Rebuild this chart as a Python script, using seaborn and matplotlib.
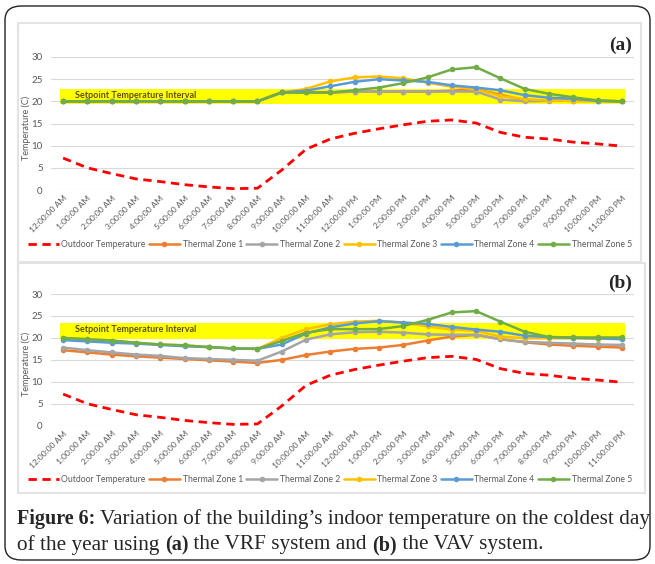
import numpy as np
import pandas as pd
import matplotlib
matplotlib.use("Agg")
import matplotlib.pyplot as plt
import seaborn as sns
from matplotlib.patches import Rectangle, FancyBboxPatch

# -------------------------------
# Data
# -------------------------------
hour_labels = [f"{h}:00:00 AM" for h in [12] + list(range(1, 12))] + \
              [f"{h}:00:00 PM" for h in [12] + list(range(1, 12))]

outdoor = [7.2, 5.0, 3.7, 2.5, 1.9, 1.2, 0.7, 0.3, 0.4, 4.5, 9.2, 11.5,
           12.8, 13.8, 14.7, 15.5, 15.8, 15.1, 13.0, 11.9, 11.5, 10.8, 10.4, 9.9]

# (a) VRF system
vrf_zone1 = [20, 20, 20, 20, 20, 20, 20, 20, 20, 22.0, 22.0, 22.0,
             22.2, 22.2, 22.2, 22.2, 22.4, 22.7, 21.5, 20.2, 20.2, 20.1, 20.1, 20.0]
vrf_zone2 = [20, 20, 20, 20, 20, 20, 20, 20, 20, 22.0, 22.0, 22.0,
             22.2, 22.2, 22.2, 22.2, 22.2, 22.2, 20.4, 20.0, 20.1, 20.1, 20.1, 20.0]
vrf_zone3 = [20, 20, 20, 20, 20, 20, 20, 20, 20, 22.0, 22.8, 24.5,
             25.4, 25.6, 25.2, 24.2, 23.3, 22.7, 21.2, 20.5, 20.2, 20.1, 20.1, 20.0]
vrf_zone4 = [20, 20, 20, 20, 20, 20, 20, 20, 20, 22.0, 22.4, 23.4,
             24.4, 25.0, 24.7, 24.4, 23.6, 23.1, 22.5, 21.4, 20.8, 20.6, 20.1, 20.0]
vrf_zone5 = [20, 20, 20, 20, 20, 20, 20, 20, 20, 22.0, 22.0, 22.0,
             22.5, 23.1, 24.1, 25.4, 27.2, 27.7, 25.2, 22.8, 21.7, 20.9, 20.2, 20.0]

# (b) VAV system
vav_zone1 = [17.2, 16.7, 16.2, 15.8, 15.5, 15.2, 14.9, 14.6, 14.3, 15.0, 16.1, 16.9,
             17.5, 17.8, 18.4, 19.4, 20.3, 20.7, 19.7, 19.0, 18.5, 18.2, 18.0, 17.8]
vav_zone2 = [17.8, 17.2, 16.7, 16.2, 15.9, 15.4, 15.2, 15.0, 14.8, 16.9, 19.6, 20.8,
             21.3, 21.4, 21.2, 20.8, 20.7, 20.7, 19.7, 19.1, 18.9, 18.7, 18.5, 18.4]
vav_zone3 = [20.0, 19.7, 19.4, 18.9, 18.5, 18.3, 17.9, 17.6, 17.5, 20.0, 22.0, 23.1,
             23.7, 23.9, 23.5, 22.6, 21.9, 21.6, 20.3, 19.9, 19.9, 19.9, 19.8, 19.8]
vav_zone4 = [19.5, 19.2, 18.9, 18.7, 18.4, 18.1, 17.9, 17.6, 17.5, 18.5, 21.0, 22.4,
             23.3, 23.8, 23.5, 23.2, 22.5, 21.9, 21.4, 20.5, 20.2, 20.0, 19.9, 19.7]
vav_zone5 = [20.0, 19.7, 19.4, 18.9, 18.5, 18.3, 17.9, 17.6, 17.5, 19.3, 21.2, 22.0,
             22.0, 22.0, 22.7, 24.1, 25.8, 26.1, 23.7, 21.4, 20.2, 20.1, 20.1, 20.1]

zone_names = ["Thermal Zone 1", "Thermal Zone 2", "Thermal Zone 3",
              "Thermal Zone 4", "Thermal Zone 5"]
zone_colors = ["#ED7D31", "#A5A5A5", "#FFC000", "#5B9BD5", "#70AD47"]

# -------------------------------
# Figure setup
# -------------------------------
sns.set_style("white")
plt.rcParams['font.family'] = ['Lato', 'DejaVu Sans']

fig = plt.figure(figsize=(6.55, 5.64), dpi=100)
W, H = 655, 564

def fig_rect(x0, y0, x1, y1):
    # pixel box (top-left origin) -> figure fraction [l, b, w, h]
    return [x0 / W, 1 - y1 / H, (x1 - x0) / W, (y1 - y0) / H]

# outer rounded frame + panel boxes
fig.patches.append(FancyBboxPatch((5 / W, 4 / H), 645 / W, 554 / H,
                                  boxstyle="round,pad=0,rounding_size=0.025",
                                  transform=fig.transFigure, fill=False,
                                  edgecolor="#222222", linewidth=1.0))
for box in [(18, 23, 641, 262), (18, 263, 645, 493)]:
    l, b, w, h = fig_rect(*box)
    fig.patches.append(Rectangle((l, b), w, h, transform=fig.transFigure,
                                 fill=False, edgecolor="#e3e3e3", linewidth=1.5))

panels = [
    ("(a)", fig_rect(51, 57, 634, 190), (19.3, 22.8),
     [vrf_zone1, vrf_zone2, vrf_zone3, vrf_zone4, vrf_zone5], 45),
    ("(b)", fig_rect(51, 294, 634, 425.7), (19.8, 23.3),
     [vav_zone1, vav_zone2, vav_zone3, vav_zone4, vav_zone5], 283),
]

x = np.arange(len(hour_labels))
for tag, rect, band, zones, tag_y in panels:
    ax = fig.add_axes(rect)

    # setpoint band
    ax.add_patch(Rectangle((-0.15, band[0]), 23.3, band[1] - band[0],
                           facecolor="#FFFF00", edgecolor="none", zorder=1))
    ax.text(0.5, (band[0] + band[1]) / 2 + 0.3, "Setpoint Temperature Interval",
            fontsize=6.5, fontweight="bold", color="#5c5200", va="center", zorder=2)

    sns.lineplot(x=x, y=outdoor, ax=ax, color="#FF0000", linestyle=(0, (3, 2)),
                 linewidth=2.0, label="Outdoor Temperature", zorder=3)
    for name, col, vals in zip(zone_names, zone_colors, zones):
        sns.lineplot(x=x, y=vals, ax=ax, color=col, linewidth=1.8, marker="o",
                     markersize=4, markeredgewidth=0, label=name, zorder=4)

    ax.set_xlim(-0.5, 23.5)
    ax.set_ylim(0, 30)
    ax.set_yticks(range(0, 31, 5))
    ax.set_xticks(x)
    ax.set_xticklabels(hour_labels, rotation=45, ha="right", rotation_mode="anchor",
                       fontsize=6, color="#595959")
    ax.tick_params(axis="y", labelsize=7, labelcolor="#595959", length=0, pad=6)
    ax.tick_params(axis="x", length=0, pad=3)
    ax.grid(axis="y", color="#d9d9d9", linewidth=0.8)
    ax.set_axisbelow(True)
    for s in ax.spines.values():
        s.set_visible(False)
    ax.set_ylabel("Temperature (C)", fontsize=6.5, color="#595959", labelpad=2)
    ax.yaxis.set_label_coords(-0.035, 0.47)
    ax.set_xlabel("")

    ax.legend(loc="center", bbox_to_anchor=(0.478, -0.41), ncol=6, frameon=False,
              fontsize=6.2, labelcolor="#595959", handlelength=3.6,
              columnspacing=0.4, handletextpad=0.3, borderaxespad=0)

    fig.text(632 / W, 1 - tag_y / H, tag, fontsize=14, fontweight="bold",
             family="Liberation Serif", ha="right", va="center")

# -------------------------------
# Caption with mixed bold / regular pieces
# -------------------------------
renderer = fig.canvas.get_renderer()

def caption_line(pieces, x_px, y_px):
    xf = x_px / W
    for txt, weight in pieces:
        size = 14.5 if weight == "bold" else 15.3
        t = fig.text(xf, 1 - y_px / H, txt, fontsize=size, fontweight=weight,
                     family="Liberation Serif", va="center", ha="left")
        bb = t.get_window_extent(renderer=renderer)
        xf += bb.width / W

caption_line([("Figure 6:", "bold"),
              (" Variation of the building\u2019s indoor temperature on the coldest day", "normal")],
             17, 519)
caption_line([("of the year using ", "normal"), ("(a)", "bold"),
              (" the VRF system and ", "normal"), ("(b)", "bold"),
              (" the VAV system.", "normal")], 17, 545)

fig.savefig("out.png", dpi=100)
